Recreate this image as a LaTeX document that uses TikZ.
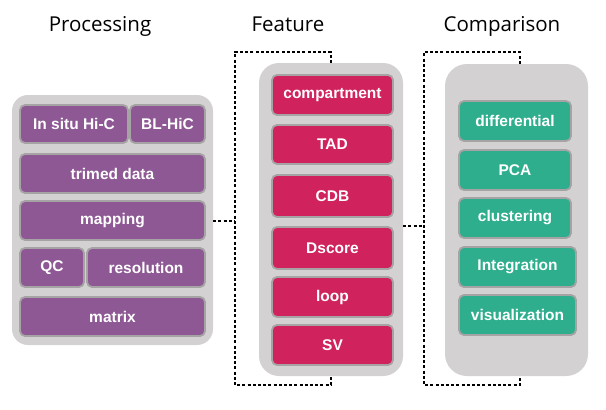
\documentclass[tikz,border=0pt]{standalone}
\usepackage{fontspec}
\setmainfont{Liberation Sans}
\newfontfamily\titlefont{Open Sans}
\definecolor{cpurple}{HTML}{8E5895}
\definecolor{ccrimson}{HTML}{D0235D}
\definecolor{cteal}{HTML}{2FAE8E}
\definecolor{cpanel}{HTML}{D3D1D2}
\definecolor{cedge}{HTML}{A6A3A5}
\begin{document}
\begin{tikzpicture}[x=1pt,y=-1pt,
  panel/.style={fill=cpanel, draw=none, rounded corners=#1, inner sep=0pt},
  panel/.default=16pt,
  box/.style={draw=cedge, line width=1.8pt, rounded corners=5pt, inner sep=0pt,
    text=white, font=\bfseries\fontsize{15.5}{18}\selectfont, anchor=center},
  pbox/.style={box, fill=cpurple},
  fbox/.style={box, fill=ccrimson},
  cbox/.style={box, fill=cteal},
  title/.style={font=\titlefont\fontsize{20.5}{24}\selectfont, inner sep=0pt, anchor=base},
  link/.style={draw=black, line width=2pt, dash pattern=on 3pt off 2.2pt}
]
\useasboundingbox (0,0) rectangle (606,410);
\fill[white] (0,0) rectangle (606,410);

% titles
\node[title] (tproc) at (100,31) {Processing};
\node[title] (tfeat) at (288,31) {Feature};
\node[title] (tcomp) at (502,31) {Comparison};

% panels
\node[panel=16pt, minimum width=201pt, minimum height=250pt] (p1) at (112.5,220) {};
\node[panel=20pt, minimum width=144pt, minimum height=313pt] (p2) at (331,219.5) {};
\node[panel=22pt, minimum width=143pt, minimum height=312pt] (p3) at (516.5,220) {};

% processing boxes
\node[pbox, minimum width=108pt, minimum height=38pt] (insitu) at (74,124) {In situ Hi-C};
\node[pbox, minimum width=75pt, minimum height=38pt] (blhic) at (167.5,124) {BL-HiC};
\node[pbox, minimum width=185pt, minimum height=39pt] (trimed) at (112.5,173.5) {trimed data};
\node[pbox, minimum width=185pt, minimum height=39pt] (mapping) at (112.5,220.5) {mapping};
\node[pbox, minimum width=64pt, minimum height=39pt] (qc) at (52,267.5) {QC};
\node[pbox, minimum width=118pt, minimum height=39pt] (resolution) at (146,267.5) {resolution};
\node[pbox, minimum width=185pt, minimum height=39pt] (matrix) at (112.5,316.5) {matrix};

% feature boxes
\node[fbox, minimum width=121pt, minimum height=40pt] (compartment) at (332.5,95) {compartment};
\node[fbox, minimum width=121pt, minimum height=39pt] (tad) at (332.5,144.5) {TAD};
\node[fbox, minimum width=121pt, minimum height=42pt] (cdb) at (332.5,196) {CDB};
\node[fbox, minimum width=121pt, minimum height=42pt] (dscore) at (332.5,248) {Dscore};
\node[fbox, minimum width=121pt, minimum height=40pt] (loop) at (332.5,297) {loop};
\node[fbox, minimum width=121pt, minimum height=40pt] (sv) at (332.5,345) {SV};

% comparison boxes
\node[cbox, minimum width=112pt, minimum height=40pt] (differential) at (515,121) {differential};
\node[cbox, minimum width=112pt, minimum height=40pt] (pca) at (515,170) {PCA};
\node[cbox, minimum width=112pt, minimum height=40pt] (clustering) at (515,218) {clustering};
\node[cbox, minimum width=117pt, minimum height=40pt] (integration) at (517.5,267) {Integration};
\node[cbox, minimum width=117pt, minimum height=40pt] (visualization) at (517.5,315) {visualization};

% bracket 1
\coordinate (b1tr) at (331,52);
\coordinate (b1tl) at (235,52);
\coordinate (b1bl) at (235,385);
\coordinate (b1br) at (331,385);
\coordinate (b1m) at (235,221);
\draw[link] (p2.north -| b1tr) -- (b1tr) -- (b1tl) -- (b1bl) -- (b1br) -- (p2.south -| b1br);
\draw[link] (p1.east |- b1m) -- (b1m);

% bracket 2
\coordinate (b2tr) at (520,52);
\coordinate (b2tl) at (424,52);
\coordinate (b2bl) at (424,385);
\coordinate (b2br) at (520,385);
\coordinate (b2m) at (424,226);
\draw[link] (p3.north -| b2tr) -- (b2tr) -- (b2tl) -- (b2bl) -- (b2br) -- (p3.south -| b2br);
\draw[link] (p2.east |- b2m) -- (b2m);
\end{tikzpicture}
\end{document}
